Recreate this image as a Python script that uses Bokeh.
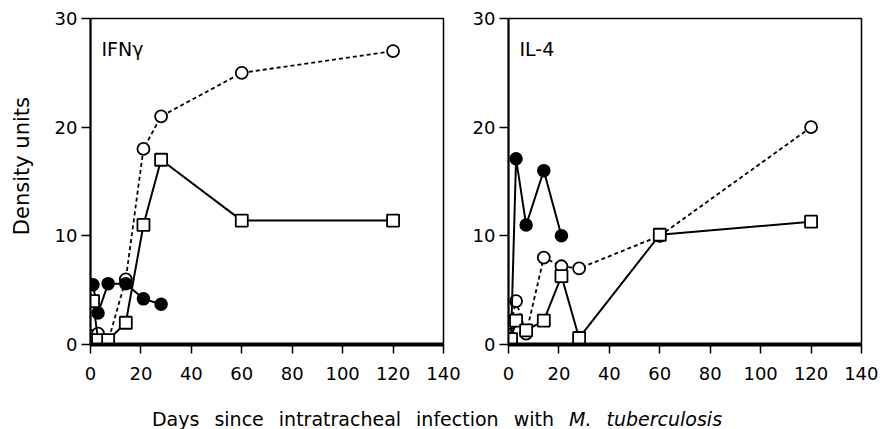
from bokeh.plotting import figure
from bokeh.layouts import column, row
from bokeh.models import Div, Label, FixedTicker
from bokeh.embed import file_html
from bokeh.resources import INLINE

# ---- data ----
days = [1, 3, 7, 14, 21, 28, 60, 120]

ifn_open = [0.8, 1.0, 0.3, 6.0, 18.0, 21.0, 25.0, 27.0]
ifn_square = [4.0, 0.4, 0.4, 2.0, 11.0, 17.0, 11.4, 11.4]
ifn_filled_days = [1, 3, 7, 14, 21, 28]
ifn_filled = [5.5, 2.9, 5.6, 5.6, 4.2, 3.7]

il4_open = [2.0, 4.0, 1.0, 8.0, 7.2, 7.0, 10.0, 20.0]
il4_square = [0.5, 2.2, 1.3, 2.2, 6.3, 0.6, 10.1, 11.3]
il4_filled_days = [1, 3, 7, 14, 21]
il4_filled = [0.5, 17.1, 11.0, 16.0, 10.0]

x_ticks = [0, 20, 40, 60, 80, 100, 120, 140]
y_ticks = [0, 10, 20, 30]

FONT = "DejaVu Sans"


def make_panel(title, open_v, sq_v, f_days, f_v, left_border, right_border):
    p = figure(width=left_border + 353 + right_border, height=380,
               x_range=(0, 140), y_range=(0, 30),
               output_backend="svg", toolbar_location=None,
               min_border_left=left_border, min_border_right=right_border,
               min_border_top=18, min_border_bottom=36)
    p.frame_width = 353
    p.frame_height = 326
    p.grid.visible = False
    p.outline_line_color = "black"
    p.outline_line_width = 1.5
    p.background_fill_color = "white"
    p.border_fill_color = "white"

    for ax in (p.xaxis[0], p.yaxis[0]):
        ax.major_tick_in = 0
        ax.major_tick_out = 9
        ax.minor_tick_line_color = None
        ax.major_label_text_font = FONT
        ax.major_label_text_font_size = "18px"
        ax.major_label_text_color = "black"
        ax.major_tick_line_color = "black"
        ax.major_tick_line_width = 1.5
        ax.axis_line_color = "black"
    p.xaxis.ticker = FixedTicker(ticks=x_ticks)
    p.yaxis.ticker = FixedTicker(ticks=y_ticks)
    p.xaxis.axis_line_width = 4
    p.yaxis.axis_line_width = 2
    p.xaxis.major_label_standoff = 13
    p.yaxis.major_label_standoff = 4

    # open circles, dashed
    p.line(days, open_v, line_color="black", line_width=1.8, line_dash="4 3")
    p.scatter(days, open_v, marker="circle", size=12, fill_color="white",
              line_color="black", line_width=1.8)
    # filled circles
    p.line(f_days, f_v, line_color="black", line_width=2)
    p.scatter(f_days, f_v, marker="circle", size=12, fill_color="black",
              line_color="black", line_width=1.5)
    # open squares
    p.line(days, sq_v, line_color="black", line_width=2)
    p.scatter(days, sq_v, marker="square", size=12, fill_color="white",
              line_color="black", line_width=1.8)

    p.add_layout(Label(x=11, y=296, x_units="screen", y_units="screen",
                       text=title, text_font=FONT, text_font_size="19px",
                       text_baseline="alphabetic", text_color="black"))
    return p


p1 = make_panel("IFN\u03b3", ifn_open, ifn_square, ifn_filled_days, ifn_filled,
                50, 26)
p2 = make_panel("IL-4", il4_open, il4_square, il4_filled_days, il4_filled,
                39, 17)

ylabel = Div(
    text=('<div style="position:relative;width:40px;height:380px;">'
          '<div style="position:absolute;left:11px;top:97px;writing-mode:vertical-rl;'
          'transform:rotate(180deg);font-family:\'DejaVu Sans\';font-size:21px;'
          'line-height:22px;white-space:nowrap;color:black;">Density units</div></div>'),
    width=40, height=380, margin=(0, 0, 0, 0))

caption = Div(
    text=('<div style="width:874px;text-align:center;font-family:\'DejaVu Sans\';'
          'font-size:19px;line-height:22px;word-spacing:9px;color:black;'
          'margin:0;padding-top:26px;">'
          'Days since intratracheal infection with <i>M. tuberculosis</i></div>'),
    width=883, height=49, margin=(0, 0, 0, 0))

layout = column(row(ylabel, p1, p2), caption)

open("out.html", "w").write(file_html(layout, INLINE))
